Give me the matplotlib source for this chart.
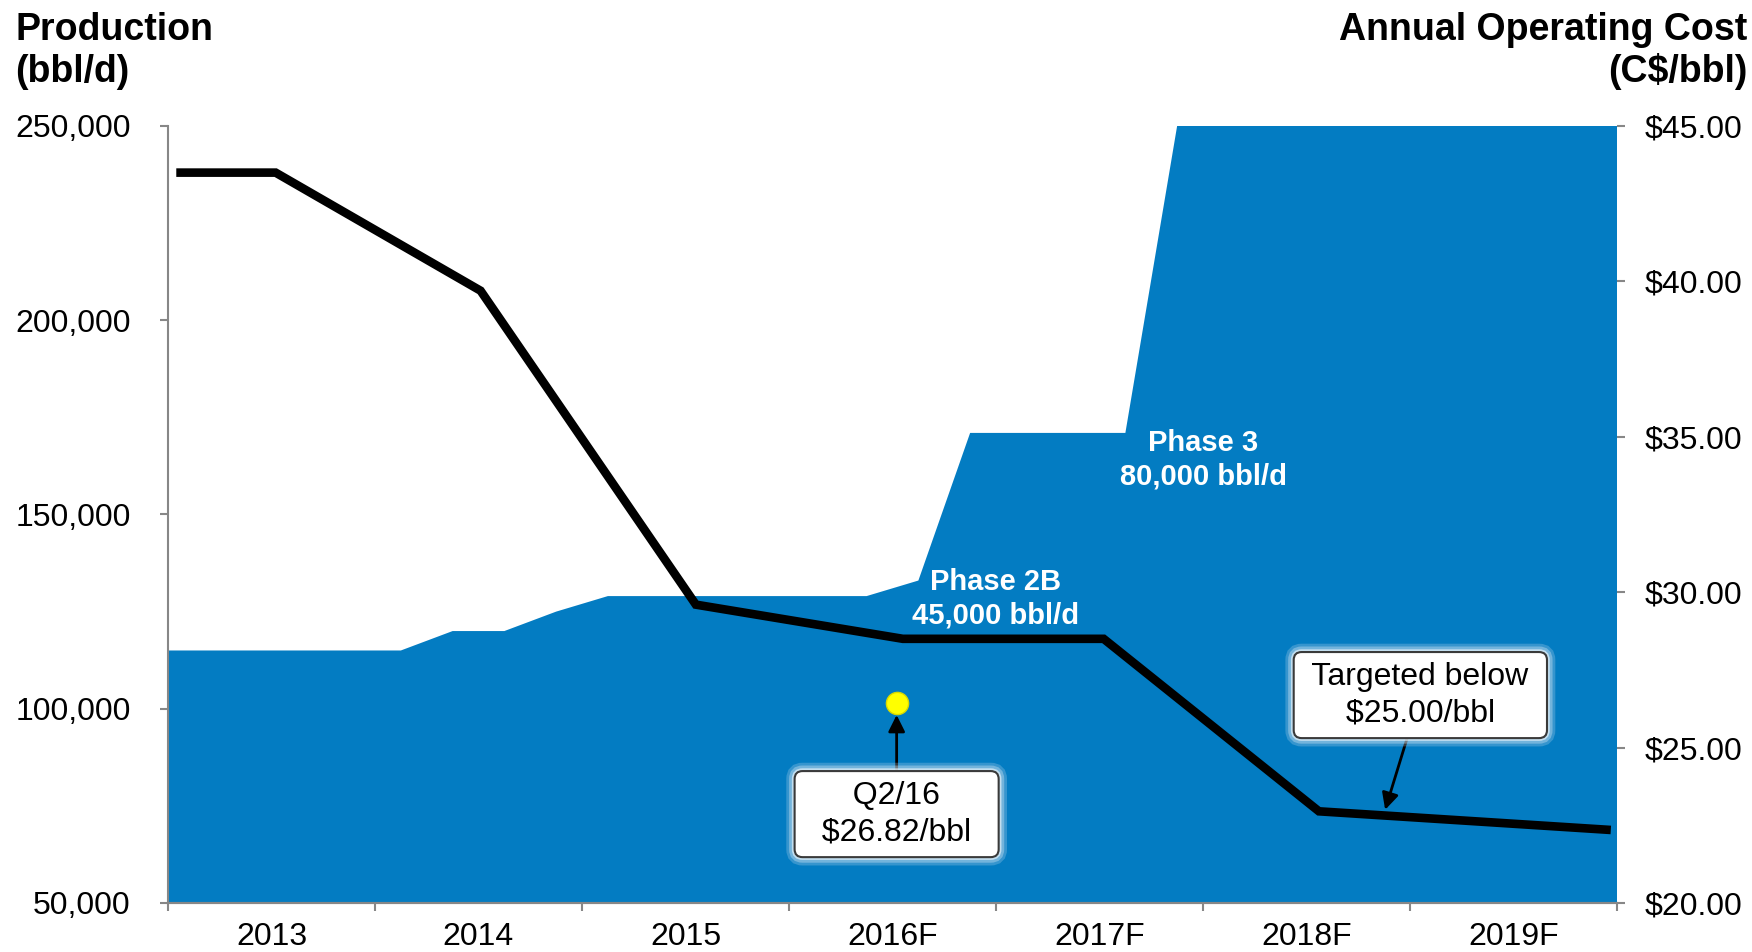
import numpy as np
import matplotlib
matplotlib.use('Agg')
import matplotlib.pyplot as plt
import matplotlib.patheffects as pe

plt.rcParams['font.family'] = ['Liberation Sans', 'DejaVu Sans']

years = ['2013', '2014', '2015', '2016F', '2017F', '2018F', '2019F']
# quarterly production (bbl/d), Q1 2013 .. Q4 2019
production = [115000, 115000, 115000, 115000, 115000, 120000, 120000, 125000,
              129000, 129000, 129000, 129000, 129000, 129000, 133000, 171000,
              171000, 171000, 171000, 250000, 250000, 250000, 250000, 250000,
              250000, 250000, 250000, 250000]
# annual operating cost (C$/bbl) and where each point sits (years from start of 2013)
cost_x = [0.04, 0.52, 1.51, 2.55, 3.55, 4.52, 5.56, 6.97]
cost = [43.50, 43.50, 39.70, 29.60, 28.50, 28.50, 22.95, 22.35]
q2_x, q2_cost = 3.52, 26.45       # Q2/16 actual (yellow dot)
target_x, target_cost = 5.88, 23.0  # where the "targeted below" arrow points

blue = '#037CC2'
grey = '#878787'

fig = plt.figure(figsize=(17.52, 9.52), dpi=100)
ax = fig.add_axes([168/1752, 1-903/952, (1617-168)/1752, (903-126)/952])
ax2 = ax.twinx()

# production area, points at quarter centres, stretched out to the axis edges
qx = (np.arange(len(production)) + 0.5) / 4
ax_x = np.concatenate([[0], qx, [len(years)]])
ax_y = np.concatenate([[production[0]], production, [production[-1]]])
ax.fill_between(ax_x, 0, ax_y, color=blue, lw=0)

ax.set_xlim(0, len(years))
ax.set_ylim(50000, 250000)
ax.set_yticks(np.arange(50000, 250001, 50000))
ax.set_yticklabels(['{:,.0f}'.format(v) for v in np.arange(50000, 250001, 50000)])
ax2.set_ylim(20, 45)
ax2.set_yticks(np.arange(20, 46, 5))
ax2.set_yticklabels(['${:.2f}'.format(v) for v in np.arange(20, 46, 5)])

# year boundaries get the tick marks, labels sit in between
ax.set_xticks(np.arange(len(years) + 1))
ax.set_xticklabels([])
ax.set_xticks(np.arange(len(years)) + 0.5, minor=True)
ax.set_xticklabels(years, minor=True)
ax.tick_params(axis='x', which='major', length=6, width=1.5, color=grey, direction='out')
ax.tick_params(axis='x', which='minor', length=0, pad=14, labelsize=23)
ax.tick_params(axis='y', length=6, width=1.5, color=grey, pad=21, labelsize=23)
ax2.tick_params(axis='y', length=6, width=1.5, color=grey, pad=14, labelsize=23)

for a in (ax, ax2):
    a.spines['top'].set_visible(False)
    a.spines['right'].set_visible(False)
    a.spines['left'].set_color(grey)
    a.spines['bottom'].set_color(grey)
    a.spines['left'].set_linewidth(1.5)
    a.spines['bottom'].set_linewidth(1.5)
ax2.spines['left'].set_visible(False)

# operating cost line
ax2.plot(cost_x, cost, color='black', lw=6.2, solid_joinstyle='miter', solid_capstyle='butt', zorder=3)
ax2.plot(q2_x, q2_cost, 'o', ms=16, mfc='#FFFF00', mec='#D8D800', mew=1, zorder=5)

# phase labels
ax.text(4.0, 128300, 'Phase 2B\n45,000 bbl/d', color='white', fontsize=21, fontweight='bold',
        ha='center', va='center', linespacing=1.25)
ax.text(5.0, 164000, 'Phase 3\n80,000 bbl/d', color='white', fontsize=21, fontweight='bold',
        ha='center', va='center', linespacing=1.25)

box = dict(boxstyle='round,pad=0.3,rounding_size=0.25', fc='white', ec='#3a3a3a', lw=1.5)
arrow = dict(arrowstyle='-|>', color='black', lw=2, mutation_scale=25, shrinkA=0, shrinkB=0)

a1 = ax2.annotate('  Q2/16  \n  $26.82/bbl  ', xy=(q2_x, 26.05), xytext=(3.52, 22.86),
                  ha='center', va='center', fontsize=23, linespacing=1.3,
                  bbox=box, arrowprops=arrow, zorder=4)
a2 = ax2.annotate(' Targeted below \n $25.00/bbl ', xy=(target_x, target_cost), xytext=(6.05, 26.69),
                  ha='center', va='center', fontsize=23, linespacing=1.3,
                  bbox=box, arrowprops=arrow, zorder=4)
# soft glow round the call-out boxes
glow = [pe.Stroke(linewidth=12, foreground='#cfe3f2', alpha=0.25),
        pe.Stroke(linewidth=8, foreground='#cfe3f2', alpha=0.4),
        pe.Stroke(linewidth=4, foreground='#e4f0f8', alpha=0.7),
        pe.Normal()]
for a in (a1, a2):
    a.get_bbox_patch().set_path_effects(glow)

# axis titles
fig.text(15/1752, 1-40/952, 'Production', fontsize=27, fontweight='bold', ha='left', va='baseline')
fig.text(15/1752, 1-82/952, '(bbl/d)', fontsize=27, fontweight='bold', ha='left', va='baseline')
fig.text(1747/1752, 1-40/952, 'Annual Operating Cost', fontsize=27, fontweight='bold', ha='right', va='baseline')
fig.text(1747/1752, 1-82/952, '(C$/bbl)', fontsize=27, fontweight='bold', ha='right', va='baseline')

fig.savefig('out.png', dpi=100)
